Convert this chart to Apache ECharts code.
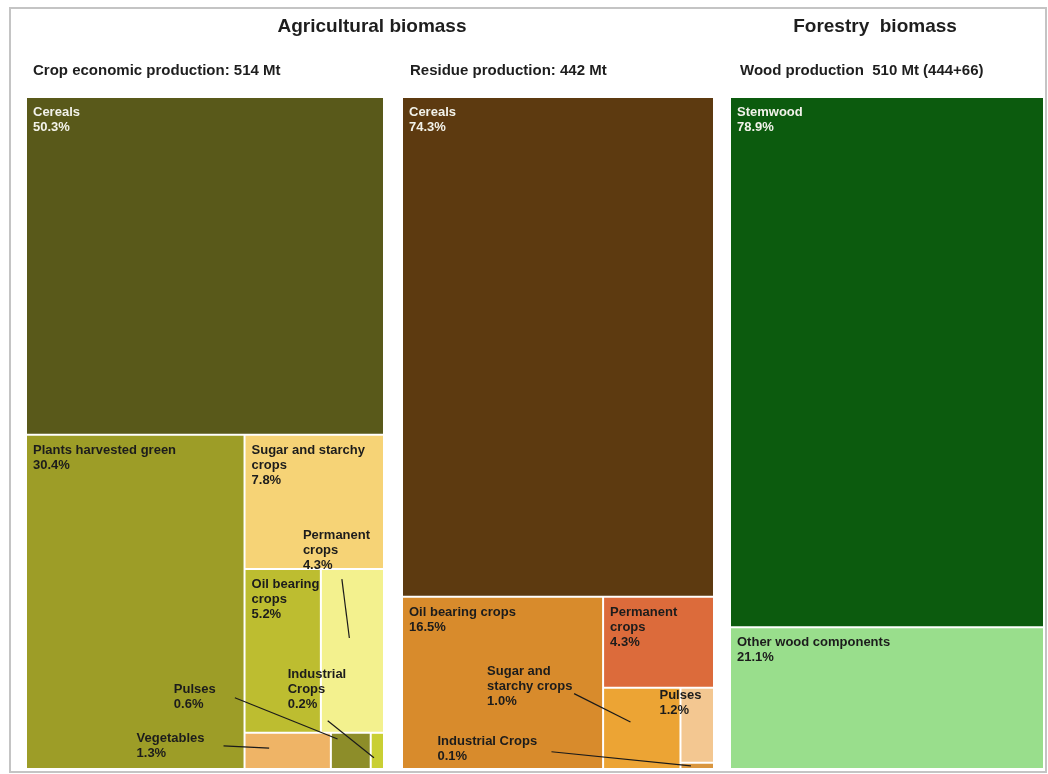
<!DOCTYPE html>
<html>
<head>
<meta charset="utf-8">
<script src="https://cdn.jsdelivr.net/npm/echarts@6/dist/echarts.min.js"></script>
<style>
html,body{margin:0;padding:0;background:#fff;}
#chart{width:1048px;height:774px;}
</style>
</head>
<body>
<div id="chart"></div>
<script>
// ---------------- DATA ----------------
const leftNames  = ['Cereals', 'Plants harvested green', 'Sugar and starchy crops', 'Oil bearing crops', 'Permanent crops', 'Vegetables', 'Pulses', 'Industrial Crops'];
const leftPct    = ['50.3', '30.4', '7.8', '5.2', '4.3', '1.3', '0.6', '0.2'];
const leftValues = [50.3, 30.4, 7.8, 5.2, 4.3, 1.3, 0.6, 0.2];

const midNames  = ['Cereals', 'Oil bearing crops', 'Permanent crops', 'Sugar and starchy crops', 'Pulses', 'Industrial Crops'];
const midPct    = ['74.3', '16.5', '4.3', '1.0', '1.2', '0.1'];
const midValues = [74.3, 16.5, 4.8, 3.0, 1.2, 0.1];

const rightNames  = ['Stemwood', 'Other wood components'];
const rightPct    = ['78.9', '21.1'];
const rightValues = [78.9, 21.1];

const mainTitles = ['Agricultural biomass', 'Forestry  biomass'];
const subTitles  = ['Crop economic production: 514 Mt', 'Residue production: 442 Mt', 'Wood production  510 Mt (444+66)'];

// ---------------- LAYOUT / STYLE ----------------
const FONT = 'Liberation Sans';
const DARK = '#1c1c1c', LIGHT = '#f2f2ea';
// nesting of the cells (indices into the arrays above)
const leftTree  = [0, [1, 2, [[3, 4], [5, 6, 7]]]];
const midTree   = [0, [1, [2, [3, 4, 5]]]];
const rightTree = [0, 1];

const leftColors  = ['#59591a', '#9d9d27', '#f6d376', '#bdbd30', '#f3f18e', '#efb466', '#8d8d29', '#c9cf34'];
const leftText    = [LIGHT, DARK, DARK, DARK, DARK, DARK, DARK, DARK];
const midColors   = ['#5d3a10', '#d88b2c', '#dc6b3b', '#eca434', '#f3c791', '#d9963f'];
const midText     = [LIGHT, DARK, DARK, DARK, DARK, DARK];
const rightColors = ['#0c5b0e', '#99de8c'];
const rightText   = [LIGHT, DARK];

const wrapped = {
  'L|Sugar and starchy crops': 'Sugar and starchy\ncrops',
  'L|Oil bearing crops': 'Oil bearing\ncrops',
  'L|Permanent crops': 'Permanent\ncrops',
  'L|Industrial Crops': 'Industrial\nCrops',
  'M|Permanent crops': 'Permanent\ncrops',
  'M|Sugar and starchy crops': 'Sugar and\nstarchy crops'
};
// labels drawn outside of their (small) cell: offsets from the cell's top-left
// dx,dy: label position; lx,ly: leader start; fx,fy: leader end as fraction of the cell
const outside = {
  'L|Permanent crops':  {dx: -19,  dy: -42, lx: 20,   ly: 9,   fx: 0.45, fy: 0.42},
  'L|Industrial Crops': {dx: -84,  dy: -67, lx: -44,  ly: -13, fx: 0.2,  fy: 0.7},
  'L|Pulses':           {dx: -158, dy: -52, lx: -97,  ly: -36, fx: 0.15, fy: 0.15},
  'L|Vegetables':       {dx: -109, dy: -3,  lx: -22,  ly: 12,  fx: 0.28, fy: 0.42},
  'M|Sugar and starchy crops': {dx: -117, dy: -25, lx: -30, ly: 5, fx: 0.35, fy: 0.42},
  'M|Pulses':           {dx: -22,  dy: -1},
  'M|Industrial Crops': {dx: -244, dy: -30, lx: -130, ly: -12, fx: 0.3, fy: 0.5}
};
const PAD = [7, 4, -400, 6];
const guides = {};
const textKey = {L: {}, M: {}, R: {}};
const panelOfSeries = ['L', 'M', 'R'];

function build(panel, spec, names, values, pcts, colors, textColors) {
  return spec.map(function (s) {
    if (Array.isArray(s)) {
      return {name: '', children: build(panel, s, names, values, pcts, colors, textColors)};
    }
    const key = panel + '|' + names[s];
    const shown = (wrapped[key] || names[s]) + '\n' + pcts[s] + '%';
    textKey[panel][shown] = key;
    return {
      name: names[s],
      value: values[s],
      itemStyle: {color: colors[s]},
      label: {color: textColors[s], formatter: shown}
    };
  });
}

function layoutFn(p) {
  const panel = panelOfSeries[p.seriesIndex];
  const key = panel && textKey[panel][p.text];
  const o = key && outside[key];
  if (!o) return {};
  const r = p.rect;
  if (o.fx != null) {
    guides[key] = [r.x + o.lx, r.y + o.ly, r.x + r.width * o.fx, r.y + r.height * o.fy];
  }
  return {x: r.x + o.dx - PAD[3], y: r.y + o.dy - PAD[0]};
}

function treemap(box, data) {
  return Object.assign({
    type: 'treemap',
    roam: false,
    nodeClick: false,
    sort: false,
    squareRatio: 1.45,
    animation: false,
    breadcrumb: {show: false},
    itemStyle: {borderWidth: 0, gapWidth: 2, borderColor: '#ffffff'},
    label: {
      show: true, position: 'insideTopLeft', distance: 0, padding: PAD,
      overflow: 'none', fontFamily: FONT, fontSize: 13, fontWeight: 'bold', lineHeight: 15
    },
    labelLayout: layoutFn,
    emphasis: {disabled: true},
    data: data
  }, box);
}

const titleStyle = {fontFamily: FONT, fontSize: 19, fontWeight: 'bold', color: '#1e1e1e'};
const subStyle = {fontFamily: FONT, fontSize: 15, fontWeight: 'bold', color: '#1e1e1e'};

const option = {
  backgroundColor: '#ffffff',
  animation: false,
  title: [
    {text: mainTitles[0], left: 372, top: 17, textAlign: 'center', padding: 0, textStyle: titleStyle},
    {text: mainTitles[1], left: 875, top: 17, textAlign: 'center', padding: 0, textStyle: titleStyle},
    {text: subTitles[0], left: 33, top: 63, padding: 0, textStyle: subStyle},
    {text: subTitles[1], left: 410, top: 63, padding: 0, textStyle: subStyle},
    {text: subTitles[2], left: 740, top: 63, padding: 0, textStyle: subStyle}
  ],
  series: [
    treemap({left: 27, top: 98, width: 356, height: 670}, build('L', leftTree, leftNames, leftValues, leftPct, leftColors, leftText)),
    treemap({left: 403, top: 98, width: 310, height: 670}, build('M', midTree, midNames, midValues, midPct, midColors, midText)),
    treemap({left: 731, top: 98, width: 312, height: 670}, build('R', rightTree, rightNames, rightValues, rightPct, rightColors, rightText))
  ]
};

const chart = echarts.init(document.getElementById('chart'), null, {renderer: 'canvas'});
chart.setOption(option);

const elements = [{
  type: 'rect', z: 100, silent: true,
  shape: {x: 10, y: 8, width: 1036, height: 764},
  style: {fill: null, stroke: '#c4c4c4', lineWidth: 2}
}];
Object.keys(guides).forEach(function (k) {
  const g = guides[k];
  elements.push({
    type: 'line', z: 100, silent: true,
    shape: {x1: g[0], y1: g[1], x2: g[2], y2: g[3]},
    style: {stroke: '#1a1a1a', lineWidth: 1.2}
  });
});
chart.setOption({graphic: {elements: elements}});
</script>
</body>
</html>
